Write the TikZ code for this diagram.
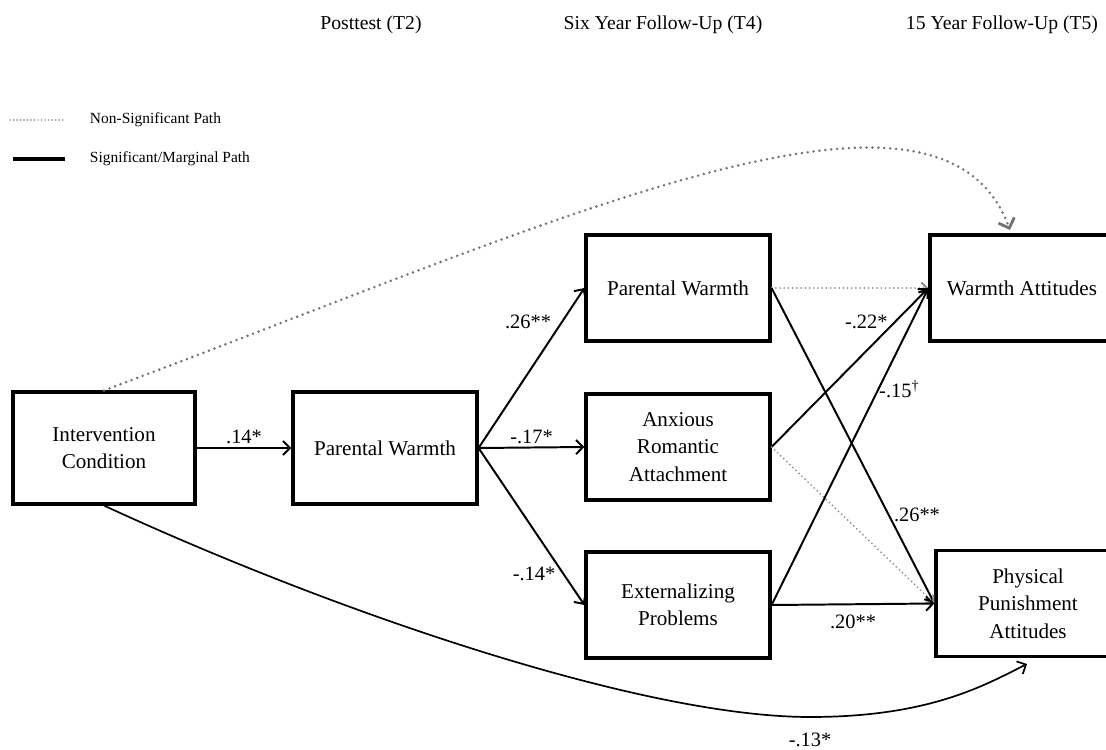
\documentclass[tikz,border=0pt]{standalone}
\usepackage{fontspec}
\setmainfont{Liberation Serif}
\usetikzlibrary{arrows.meta, positioning, calc}

\tikzset{
  var/.style={draw, line width=2.2pt, align=center, inner sep=2pt,
    minimum width=4.6cm, minimum height=2.65cm, font=\fontsize{15}{19.5}\selectfont},
  sig/.style={line width=1.4pt, -{Straight Barb[length=5pt,width=10pt]}},
  nonsig/.style={black!55, line width=2pt, line cap=round, dash pattern=on 0pt off 4.2pt,
    -{Straight Barb[length=6pt,width=12pt]}},
  thindot/.style={nonsig, black!45, line width=1.4pt, dash pattern=on 0pt off 3pt,
    -{Straight Barb[length=4pt,width=8pt]}},
  coef/.style={font=\fontsize{14.5}{17}\selectfont, inner sep=2pt},
  wave/.style={font=\fontsize{14}{17}\selectfont},
  legtext/.style={font=\fontsize{11}{13}\selectfont, anchor=west}
}

\begin{document}
\begin{tikzpicture}[x=0.025cm, y=-0.025cm]
  \useasboundingbox (0,0) rectangle (1106,750);

  % time points
  \node[wave] (t2) at (371,25) {Posttest (T2)};
  \node[wave] (t4) at (663,25) {Six Year Follow-Up (T4)};
  \node[wave] (t5) at (1002,25) {15 Year Follow-Up (T5)};

  % legend
  \node[legtext] (lgns) at (85,120) {Non-Significant Path};
  \node[legtext] (lgsig) at (85,159) {Significant/Marginal Path};
  \draw[black!50, line width=1.2pt, line cap=round, dash pattern=on 0pt off 2.5pt]
    ([xshift=-1.875cm]lgns.west) -- ([xshift=-0.55cm]lgns.west);
  \draw[line width=2.2pt] ([xshift=-1.8cm]lgsig.west) -- ([xshift=-0.5cm]lgsig.west);

  % variables
  \node[var, minimum width=4.55cm, minimum height=2.8cm] (interv) at (104,448) {Intervention\\Condition};
  \node[var, minimum height=2.8cm] (pw2) at (385,448) {Parental Warmth};
  \node[var] (pw4) at (678,288) {Parental Warmth};
  \node[var] (anx) at (678,447) {Anxious\\Romantic\\Attachment};
  \node[var] (ext) at (678,605) {Externalizing\\Problems};
  \node[var] (warm) at (1022,288) {Warmth Attitudes};
  \node[var] (punish) at (1028,603.5) {Physical\\Punishment\\Attitudes};
  \coordinate (warmin) at (1010,230);
  \coordinate (punin) at (1027,664);

  % paths
  \draw[sig] (interv) -- node[coef, above] (c1) {.14*} (pw2);
  \draw[sig] (pw2.east) -- node[coef, pos=0.72, above left] (c2) {.26**} (pw4.west);
  \draw[sig] (pw2.east) -- node[coef, above] (c3) {-.17*} (anx.west);
  \draw[sig] (pw2.east) -- node[coef, pos=0.8, left=3pt] (c4) {-.14*} (ext.west);
  \draw[thindot] (pw4.east) -- (warm.west);
  \draw[sig] (pw4.east) -- node[coef, pos=0.72, right=1pt] (c5) {.26**} (punish.west);
  \draw[sig] (anx.east) -- node[coef, pos=0.79, left=3pt] (c6) {-.22*} (warm.west);
  \draw[thindot] (anx.east) -- (punish.west);
  \draw[sig] (ext.east) -- node[coef, pos=0.68, right=-2pt] (c7) {-.15\textsuperscript{†}} (warm.west);
  \draw[sig] (ext.east) -- node[coef, below=5pt] (c8) {.20**} (punish.west);
  \draw[nonsig] (interv.north) .. controls (560,220) and (940,40) .. (warmin);
  \draw[sig, line width=1.2pt] (interv.south) .. controls (330,610) and (640,717) .. (810,717)
    .. controls (930,717) and (985,685) .. node[coef, pos=0, below=9pt] (c9) {-.13*} (punin);
\end{tikzpicture}
\end{document}
